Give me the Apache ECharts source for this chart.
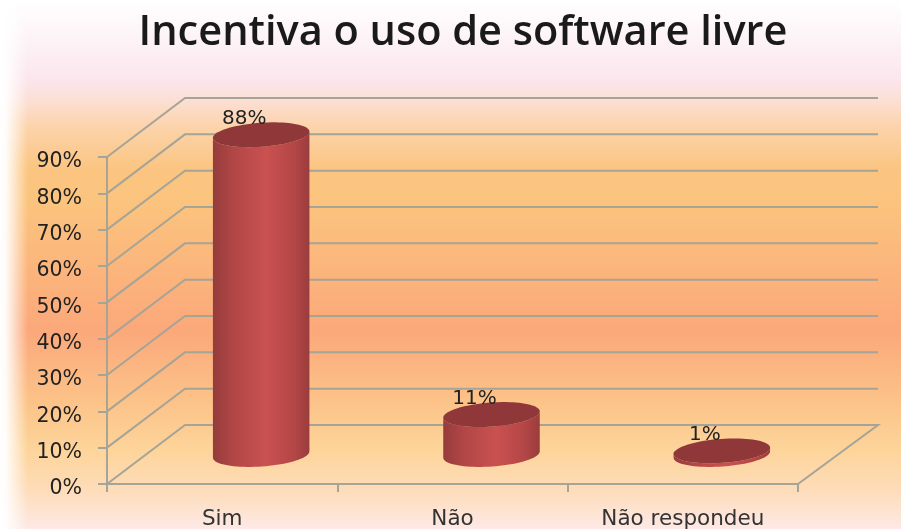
<!DOCTYPE html>
<html>
<head>
<meta charset="utf-8">
<style>html,body{margin:0;padding:0;background:#fff;overflow:hidden}#c{width:901px;height:529px;filter:blur(0.55px)}</style>
<script src="https://cdn.jsdelivr.net/npm/echarts@6/dist/echarts.min.js"></script>
</head>
<body>
<div id="c"></div>
<script>
const titleText = 'Incentiva o uso de software livre';
const categories = ['Sim', 'Não', 'Não respondeu'];
const values = [88, 11, 1];
const valueLabels = ['88%', '11%', '1%'];
const yTicks = [0, 10, 20, 30, 40, 50, 60, 70, 80, 90];

const DEPTH_X = 78, DEPTH_Y = -59;
const GRID_COLOR = '#a6a497';
const TEXT = '#222222';
const FONT = '"DejaVu Sans", sans-serif';

function ellipsePts(cx, cy, rx, ry, rotDeg, from, to, n) {
  const r = rotDeg * Math.PI / 180, pts = [];
  for (let i = 0; i <= n; i++) {
    const t = from + (to - from) * i / n;
    const x = rx * Math.cos(t), y = ry * Math.sin(t);
    pts.push([cx + x * Math.cos(r) - y * Math.sin(r), cy + x * Math.sin(r) + y * Math.cos(r)]);
  }
  return pts;
}

function renderGrid(params, api) {
  const cs = params.coordSys;
  const y = api.coord([0, api.value(1)])[1];
  const x0 = cs.x, x1 = cs.x + cs.width;
  const pts = [[x0, y], [x0 + DEPTH_X, y + DEPTH_Y], [x1 + DEPTH_X + 2, y + DEPTH_Y]];
  if (api.value(1) === 0) pts.push([x1, y]);
  return { type: 'polyline', shape: { points: pts },
    style: { stroke: GRID_COLOR, lineWidth: 2, fill: null } };
}

function renderCyl(params, api) {
  const band = api.size([1, 0])[0];
  const base = api.coord([api.value(0), 0]);
  const top = api.coord([api.value(0), api.value(1)]);
  const cx = base[0] + DEPTH_X / 2, by = base[1] + DEPTH_Y / 2, ty = top[1] + DEPTH_Y / 2;
  const rx = band * 0.21, ry = 12, rot = -4;
  const front = ellipsePts(cx, by, rx, ry, rot, 0, Math.PI, 40);
  const back = ellipsePts(cx, ty, rx, ry, rot, Math.PI, 0, 40);
  return { type: 'group', children: [
    { type: 'polygon', shape: { points: back.concat(front) },
      style: { fill: { type: 'linear', x: 0, y: 0, x2: 1, y2: 0, colorStops: [
        { offset: 0, color: '#963b3b' }, { offset: 0.2, color: '#b04646' },
        { offset: 0.55, color: '#ca5150' }, { offset: 0.85, color: '#b24646' },
        { offset: 1, color: '#9b3c3c' }] } } },
    { type: 'polygon', shape: { points: ellipsePts(cx, ty, rx, ry, rot, 0, Math.PI * 2, 80) },
      style: { fill: '#8f3739' } },
    { type: 'text', x: cx - 17, y: ty - 16,
      style: { text: valueLabels[params.dataIndex], fill: TEXT, font: '20px ' + FONT,
        align: 'center', verticalAlign: 'middle' } }
  ] };
}

const chart = echarts.init(document.getElementById('c'), null, { renderer: 'canvas' });
chart.setOption({
  animation: false,
  backgroundColor: { type: 'linear', x: 0, y: 0, x2: 0, y2: 1, colorStops: [
    { offset: 0, color: '#ffffff' }, { offset: 0.075, color: '#fdf3f6' },
    { offset: 0.155, color: '#fbe5ec' }, { offset: 0.19, color: '#fcdfd4' },
    { offset: 0.24, color: '#fcd3aa' }, { offset: 0.32, color: '#fbc581' },
    { offset: 0.38, color: '#fbc47e' },
    { offset: 0.51, color: '#fbb57c' }, { offset: 0.625, color: '#fba87a' },
    { offset: 0.755, color: '#fcc288' }, { offset: 0.85, color: '#fdd49a' },
    { offset: 0.925, color: '#fddcb8' }, { offset: 1, color: '#fde9e6' }] },
  title: { text: titleText, left: 458, top: 7, textAlign: 'center',
    textStyle: { fontFamily: '"Open Sans", sans-serif', fontWeight: 600, fontSize: 41.5, color: '#1a1a1a' } },
  graphic: [{ type: 'rect', z: -1, silent: true, shape: { x: 0, y: 0, width: 28, height: 529 },
    style: { fill: { type: 'linear', x: 0, y: 0, x2: 1, y2: 0, colorStops: [
      { offset: 0, color: 'rgba(255,255,255,1)' }, { offset: 0.2, color: 'rgba(255,255,255,0.95)' },
      { offset: 1, color: 'rgba(255,255,255,0)' }] } } }],
  grid: { left: 107, right: 103, top: 157, bottom: 45, outerBoundsMode: 'none' },
  xAxis: { type: 'category', data: categories,
    axisLine: { lineStyle: { color: GRID_COLOR, width: 2 } },
    axisTick: { show: true, length: 8, lineStyle: { color: GRID_COLOR, width: 2 } },
    axisLabel: { fontFamily: FONT, fontSize: 21.5, color: '#333', margin: 24, interval: 0 } },
  yAxis: { type: 'value', min: 0, max: 90, interval: 10,
    axisLine: { show: true, lineStyle: { color: GRID_COLOR, width: 2 } },
    axisTick: { show: true, length: 9, lineStyle: { color: GRID_COLOR, width: 2 } },
    splitLine: { show: false },
    axisLabel: { fontFamily: FONT, fontSize: 20.5, color: TEXT, margin: 25, verticalAlign: 'top', lineHeight: 10, formatter: '{value}%' } },
  series: [
    { type: 'custom', silent: true, clip: false, z: 1, renderItem: renderGrid,
      encode: { x: 0, y: 1 }, data: yTicks.map(t => [0, t]) },
    { type: 'custom', silent: true, clip: false, z: 3, renderItem: renderCyl,
      encode: { x: 0, y: 1 }, data: values.map((v, i) => [i, v]) }
  ]
});
</script>
</body>
</html>
